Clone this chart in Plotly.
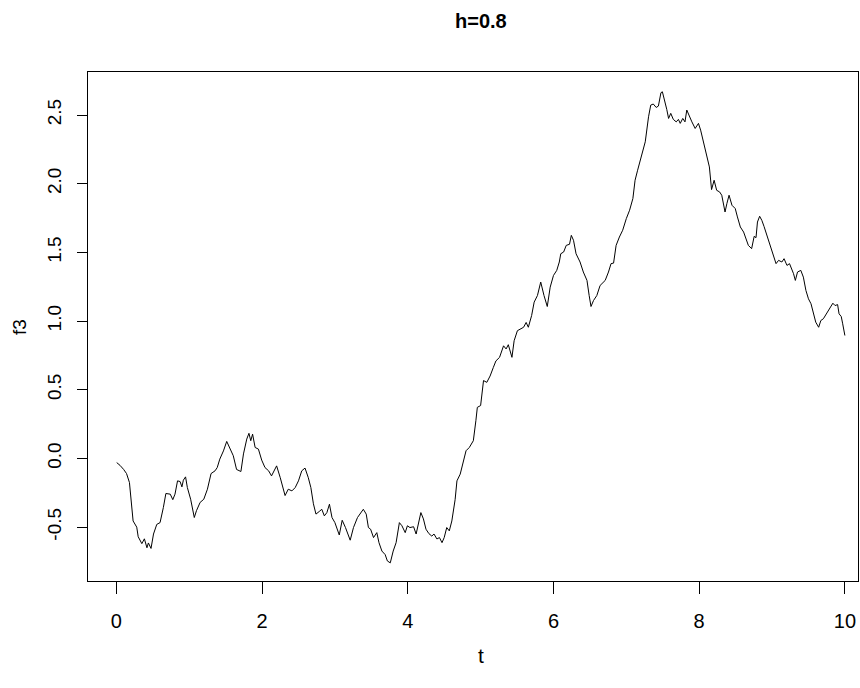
import plotly.graph_objects as go

# Values (time t, process f3)
t = [0.005, 0.05, 0.10, 0.14, 0.18, 0.21, 0.23, 0.28, 0.30, 0.35, 0.385, 0.42, 0.44, 0.476,
     0.51, 0.555, 0.60, 0.645, 0.68, 0.74, 0.775, 0.805, 0.84, 0.875, 0.90, 0.92, 0.95, 0.975,
     1.02, 1.07, 1.10, 1.15, 1.20, 1.25, 1.30, 1.355, 1.385, 1.42, 1.47, 1.515, 1.56, 1.605,
     1.65, 1.71, 1.745, 1.79, 1.82, 1.845, 1.87, 1.905, 1.95, 1.995, 2.04, 2.09, 2.13, 2.165,
     2.20, 2.25,
     2.316, 2.36, 2.41, 2.455, 2.50, 2.545, 2.59, 2.635, 2.67, 2.705, 2.74, 2.785, 2.82, 2.855,
     2.89, 2.925, 2.96, 3.00, 3.06, 3.10, 3.145, 3.21, 3.255, 3.31, 3.345, 3.39, 3.43, 3.46,
     3.49, 3.53, 3.575, 3.605, 3.645, 3.69, 3.72, 3.76, 3.80, 3.84, 3.885, 3.92, 3.965, 3.995,
     4.03, 4.08, 4.115, 4.145, 4.18, 4.215, 4.25, 4.29, 4.33, 4.36, 4.40, 4.435, 4.47, 4.50,
     4.535, 4.57, 4.605,
     4.65, 4.675, 4.72, 4.755, 4.80, 4.845, 4.90, 4.935, 4.955, 5.00, 5.04, 5.085, 5.13, 5.175,
     5.21, 5.26, 5.29, 5.315, 5.35, 5.38, 5.43, 5.46, 5.505, 5.55, 5.59, 5.625, 5.655, 5.70,
     5.735, 5.78, 5.825, 5.87, 5.915, 5.955, 6.00, 6.045, 6.08, 6.10, 6.14, 6.175, 6.22, 6.245,
     6.275, 6.31, 6.365, 6.41, 6.46, 6.49, 6.515, 6.55, 6.595,
     6.64, 6.71, 6.755, 6.79, 6.825, 6.86, 6.905, 6.95, 7.00, 7.045, 7.09, 7.12, 7.155, 7.19,
     7.225, 7.26, 7.305, 7.335, 7.37, 7.41, 7.44, 7.475, 7.495, 7.525, 7.555, 7.58, 7.61, 7.645,
     7.685, 7.715, 7.74, 7.775, 7.805, 7.83, 7.865, 7.90, 7.945, 7.99, 8.02, 8.06, 8.10, 8.14,
     8.17, 8.205, 8.24, 8.28, 8.31, 8.355, 8.38, 8.41, 8.45, 8.495, 8.525,
     8.565, 8.61, 8.645, 8.675, 8.72, 8.755, 8.78, 8.80, 8.83, 8.86, 8.89, 8.93, 8.965, 9.00,
     9.02, 9.055, 9.09, 9.135, 9.165, 9.205, 9.24, 9.27, 9.295, 9.32, 9.35, 9.395, 9.43, 9.465,
     9.50, 9.535, 9.57, 9.60, 9.64, 9.67, 9.705, 9.745, 9.775, 9.81, 9.835, 9.865, 9.90, 9.92,
     9.95, 9.97, 9.99, 10.0]

f3 = [-0.03, -0.05, -0.08, -0.11, -0.175, -0.33, -0.455, -0.50, -0.57, -0.62, -0.585, -0.65, -0.615, -0.655,
      -0.55, -0.48, -0.467, -0.358, -0.255, -0.26, -0.30, -0.26, -0.163, -0.168, -0.207, -0.158, -0.134, -0.212,
      -0.297, -0.43, -0.38, -0.32, -0.297, -0.224, -0.11, -0.09, -0.066, -0.005, 0.055, 0.124, 0.068, 0.02,
      -0.08, -0.095, 0.033, 0.141, 0.183, 0.129, 0.177, 0.08, 0.068, -0.012, -0.066, -0.09, -0.127, -0.095,
      -0.054, -0.14,
      -0.27, -0.224, -0.236, -0.212, -0.163, -0.09, -0.07, -0.14, -0.212, -0.33, -0.405, -0.386, -0.37, -0.418,
      -0.394, -0.333, -0.43, -0.467, -0.557, -0.45, -0.503, -0.595, -0.503, -0.43, -0.40, -0.37, -0.405, -0.503,
      -0.515, -0.576, -0.54, -0.613, -0.674, -0.70, -0.746, -0.76, -0.674, -0.613, -0.467, -0.49, -0.54, -0.49,
      -0.503, -0.497, -0.55, -0.477, -0.394, -0.44, -0.515, -0.547, -0.565, -0.55, -0.586, -0.576, -0.613, -0.576,
      -0.503, -0.527, -0.455,
      -0.30, -0.163, -0.114, -0.041, 0.056, 0.08, 0.129, 0.275, 0.372, 0.385, 0.567, 0.554, 0.60, 0.663,
      0.71, 0.736, 0.785, 0.82, 0.797, 0.828, 0.736, 0.857, 0.93, 0.943, 0.955, 0.99, 0.955, 1.04,
      1.138, 1.186, 1.284, 1.186, 1.106, 1.247, 1.332, 1.369, 1.43, 1.49, 1.503, 1.551, 1.559, 1.624,
      1.588, 1.49, 1.43, 1.357, 1.296, 1.186, 1.106, 1.15, 1.186,
      1.259, 1.296, 1.357, 1.418, 1.422, 1.551, 1.612, 1.661, 1.746, 1.807, 1.892, 2.025, 2.098, 2.171,
      2.232, 2.305, 2.487, 2.572, 2.58, 2.555, 2.565, 2.662, 2.669, 2.609, 2.541, 2.475, 2.512, 2.468,
      2.45, 2.468, 2.439, 2.475, 2.45, 2.536, 2.487, 2.45, 2.402, 2.439, 2.39, 2.293, 2.208, 2.122,
      1.957, 2.025, 1.952, 1.94, 1.916, 1.794, 1.855, 1.916, 1.843, 1.819, 1.758,
      1.685, 1.648, 1.588, 1.551, 1.527, 1.617, 1.607, 1.721, 1.763, 1.733, 1.689, 1.624, 1.563, 1.515,
      1.466, 1.418, 1.442, 1.43, 1.454, 1.405, 1.418, 1.381, 1.345, 1.296, 1.357, 1.369, 1.32, 1.223,
      1.162, 1.126, 1.053, 0.992, 0.955, 1.004, 1.017, 1.053, 1.077, 1.101, 1.13, 1.113, 1.12, 1.053,
      1.033, 0.98, 0.90, 0.895]

x_ticks = [0, 2, 4, 6, 8, 10]
y_ticks = [-0.5, 0.0, 0.5, 1.0, 1.5, 2.0, 2.5]
y_tick_text = ["-0.5", "0.0", "0.5", "1.0", "1.5", "2.0", "2.5"]

title_text = "h=0.8"
x_title = "t"
y_title = "f3"

NARROW = "Liberation Sans Narrow, Arial Narrow, Liberation Sans, Arial"
REG = "Liberation Sans, Arial, sans-serif"

fig = go.Figure()
fig.add_trace(go.Scatter(x=t, y=f3, mode="lines",
                         line=dict(color="black", width=1), showlegend=False,
                         hoverinfo="skip"))

fig.update_layout(
    width=860, height=688,
    paper_bgcolor="white", plot_bgcolor="white",
    margin=dict(l=88, r=2, t=72, b=107, pad=0),
    xaxis=dict(range=[-0.389, 10.18], tickvals=x_ticks, ticktext=[str(v) for v in x_ticks],
               showgrid=False, zeroline=False, showline=True, mirror=True, automargin=False,
               linecolor="black", linewidth=1, ticks="outside", ticklen=12,
               tickcolor="black", tickwidth=1,
               tickfont=dict(family=NARROW, size=20, color="black"),
               ticklabelstandoff=10),
    yaxis=dict(range=[-0.892, 2.813], tickvals=y_ticks, ticktext=y_tick_text,
               showgrid=False, zeroline=False, showline=True, mirror=True, automargin=False,
               linecolor="black", linewidth=1, ticks="outside", ticklen=10,
               tickcolor="black", tickwidth=1, tickangle=-90,
               tickfont=dict(family=REG, size=19, color="black"),
               ticklabelstandoff=8),
    annotations=[
        dict(text="<b>" + title_text + "</b>", x=0.5104, y=1.1, xref="paper", yref="paper",
             xanchor="center", yanchor="middle", showarrow=False,
             font=dict(family=NARROW, size=20, color="black")),
        dict(text=x_title, x=0.5104, y=-0.1454, xref="paper", yref="paper",
             xanchor="center", yanchor="middle", showarrow=False,
             font=dict(family=NARROW, size=21, color="black")),
        dict(text=y_title, x=-0.089, y=0.5, xref="paper", yref="paper",
             xanchor="center", yanchor="middle", showarrow=False, textangle=-90,
             font=dict(family=REG, size=19, color="black")),
    ],
)

fig.write_html("out.html", config={"displayModeBar": False},
               post_script="document.body.style.margin='0';document.body.style.overflow='hidden';")
